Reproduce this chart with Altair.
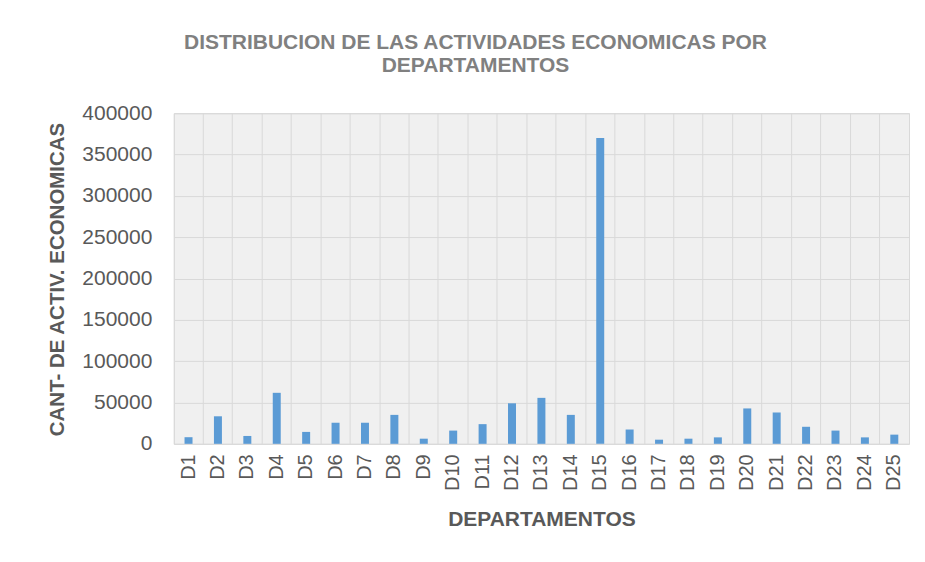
import altair as alt
import pandas as pd

departamentos = [f"D{i}" for i in range(1, 26)]
actividades = [8000, 33300, 9500, 61700, 14400, 25500, 25500, 35000, 6200, 16000,
               23800, 49000, 55600, 35000, 370000, 17300, 5000, 6200, 7800, 42800,
               37900, 20600, 16000, 7800, 11100]
y_ticks = [0, 50000, 100000, 150000, 200000, 250000, 300000, 350000, 400000]

df = pd.DataFrame({"dep": departamentos, "val": actividades})

FONT = "Liberation Sans"

chart = alt.Chart(df).mark_bar(size=8, color="#5b9bd5").encode(
    x=alt.X("dep:N", sort=departamentos,
            scale=alt.Scale(paddingInner=0, paddingOuter=0),
            axis=alt.Axis(title="DEPARTAMENTOS", labelAngle=270, labelAlign="right",
                          labelBaseline="middle", labelPadding=10, labelFontSize=20,
                          labelColor="#595959", labelFont=FONT, labelLimit=200,
                          ticks=False, domain=False, grid=True, gridColor="#d9d9d9",
                          bandPosition=0,
                          titleFontSize=21, titleFontWeight="bold", titleColor="#595959",
                          titleFont=FONT, titleY=76, titleBaseline="middle")),
    y=alt.Y("val:Q", scale=alt.Scale(domain=[0, 400000], nice=False),
            axis=alt.Axis(title="CANT- DE ACTIV. ECONOMICAS", values=y_ticks, format="d",
                          labelFontSize=21, labelColor="#595959", labelFont=FONT,
                          labelPadding=22, ticks=False, domain=False,
                          grid=True, gridColor="#d9d9d9",
                          titleFontSize=20.5, titleFontWeight="bold", titleColor="#595959",
                          titleFont=FONT, titleAngle=270, titleBaseline="middle",
                          titleX=-116, titleY=166)),
).properties(
    width=736, height=331,
    autosize=alt.AutoSizeParams(type="none"),
    padding={"left": 166, "top": 105, "right": 8, "bottom": 100},
    title=alt.TitleParams(
        text=["DISTRIBUCION DE LAS ACTIVIDADES ECONOMICAS POR", "DEPARTAMENTOS"],
        font=FONT, fontSize=21, fontWeight="bold", color="#808080",
        anchor="middle", dx=-66, offset=26, lineHeight=23),
).configure_view(fill="#f0f0f0", stroke="#d9d9d9")

chart.save("out.html", embed_options={"renderer": "svg", "actions": False})
